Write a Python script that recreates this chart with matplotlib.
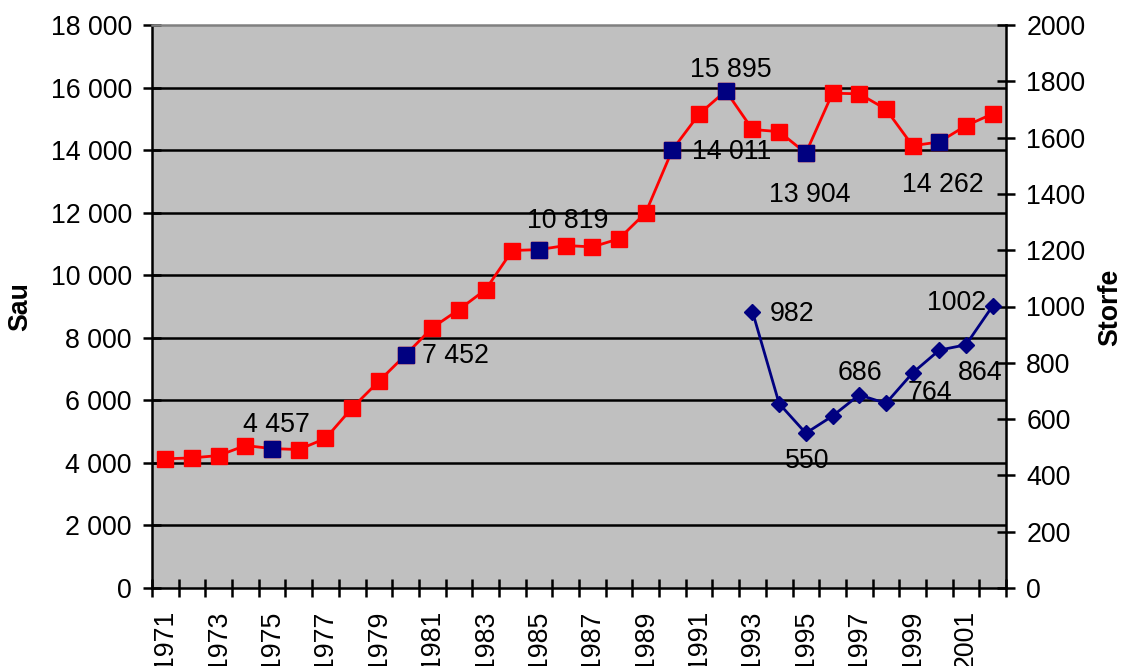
import numpy as np
import matplotlib
matplotlib.use("Agg")
import matplotlib.pyplot as plt

plt.rcParams['font.family'] = ['Liberation Sans', 'DejaVu Sans']

# Sau (left axis), one value per year 1971-2002
years = np.arange(1971, 2003)
sau = [4130, 4160, 4235, 4555, 4457, 4427, 4780, 5760, 6610, 7452,
       8320, 8900, 9540, 10790, 10819, 10950, 10905, 11165, 12000, 14011,
       15150, 15895, 14660, 14590, 13904, 15820, 15800, 15310, 14140, 14262,
       14780, 15160]
# years whose sheep markers are drawn in navy and labelled
sau_marked = [1975, 1980, 1985, 1990, 1992, 1995, 2000]

# Storfe (right axis), 1993-2002
storfe_years = np.arange(1993, 2003)
storfe = [982, 655, 550, 611, 686, 656, 764, 845, 864, 1002]

sau_ticks = np.arange(0, 18001, 2000)
storfe_ticks = np.arange(0, 2001, 200)


def fmt_thousands(v):
    return f"{v:,}".replace(",", " ")


red = '#FF0000'
navy = '#000080'
fs = 19.3

fig = plt.figure(figsize=(11.22, 6.66), dpi=100)
ax = fig.add_axes([152/1122, 1 - 588/666, (1006-152)/1122, (588-25)/666])
ax.set_facecolor('#C0C0C0')
ax.set_xlim(1970.5, 2002.5)
ax.set_ylim(0, 18000)

for y in sau_ticks[1:-1]:
    ax.axhline(y, color='black', lw=1.8, zorder=1)

ax.plot(years, sau, color=red, lw=2, marker='s', ms=11,
        mfc=red, mec=red, zorder=3)
idx = [list(years).index(y) for y in sau_marked]
ax.plot(years[idx], [sau[i] for i in idx], ls='none', marker='s', ms=11,
        mfc=navy, mec=navy, zorder=4)

# label offsets (points) and alignment for the sheep values
sau_lbl = {1975: (3, 12.3, 'center'), 1980: (12.2, -6.1, 'left'),
           1985: (20.9, 15.2, 'center'), 1990: (14.4, -6.8, 'left'),
           1992: (3.6, 10.1, 'center'), 1995: (2.9, -34.9, 'center'),
           2000: (2.2, -36.4, 'center')}
for yr, (dx, dy, ha) in sau_lbl.items():
    v = sau[list(years).index(yr)]
    ax.annotate(fmt_thousands(v), (yr, v), xytext=(dx, dy),
                textcoords='offset points', ha=ha, va='baseline',
                fontsize=fs, zorder=6)

ax.set_yticks(sau_ticks)
ax.set_yticklabels([fmt_thousands(v) for v in sau_ticks])
ax.tick_params(axis='y', direction='inout', length=13, width=1.8,
               labelsize=fs, pad=8)

ax.set_xticks(np.arange(1970.5, 2003, 1))
ax.set_xticklabels([])
ax.tick_params(axis='x', which='major', direction='inout', length=13, width=1.8)
odd = years[::2]
ax.set_xticks(odd, minor=True)
ax.set_xticklabels([str(y) for y in odd], minor=True, rotation=90, fontsize=fs)
ax.tick_params(axis='x', which='minor', length=0, pad=16)

for s in ['left', 'bottom']:
    ax.spines[s].set_linewidth(1.8)
    ax.spines[s].set_color('black')
ax.spines['top'].set_color('#808080')
ax.spines['top'].set_linewidth(1.8)
ax.spines['right'].set_visible(False)

ax2 = ax.twinx()
ax2.set_ylim(0, 2000)
ax2.plot(storfe_years, storfe, color=navy, lw=2, marker='D', ms=8.3,
         mfc=navy, mec=navy, zorder=3)

storfe_lbl = {1993: (12.6, -6.5, 'left'), 1995: (0.7, -24.8, 'center'),
              1997: (0.7, 10.4, 'center'), 1999: (12.2, -19.8, 'center'),
              2001: (10, -25.6, 'center'), 2002: (-5, -3.2, 'right')}
for yr, (dx, dy, ha) in storfe_lbl.items():
    v = storfe[list(storfe_years).index(yr)]
    ax2.annotate(str(v), (yr, v), xytext=(dx, dy), textcoords='offset points',
                 ha=ha, va='baseline', fontsize=fs, zorder=6)

ax2.set_yticks(storfe_ticks)
ax2.tick_params(axis='y', direction='inout', length=13, width=1.8,
                labelsize=fs, pad=8)
for s in ['left', 'bottom', 'top']:
    ax2.spines[s].set_visible(False)
ax2.spines['right'].set_linewidth(1.8)

fig.text(20/1122, 1 - 307/666, 'Sau', rotation=90, fontsize=fs,
         fontweight='bold', ha='center', va='center')
fig.text(1110/1122, 1 - 307/666, 'Storfe', rotation=90, fontsize=fs,
         fontweight='bold', ha='center', va='center')

fig.savefig('out.png', dpi=100, facecolor='white')
